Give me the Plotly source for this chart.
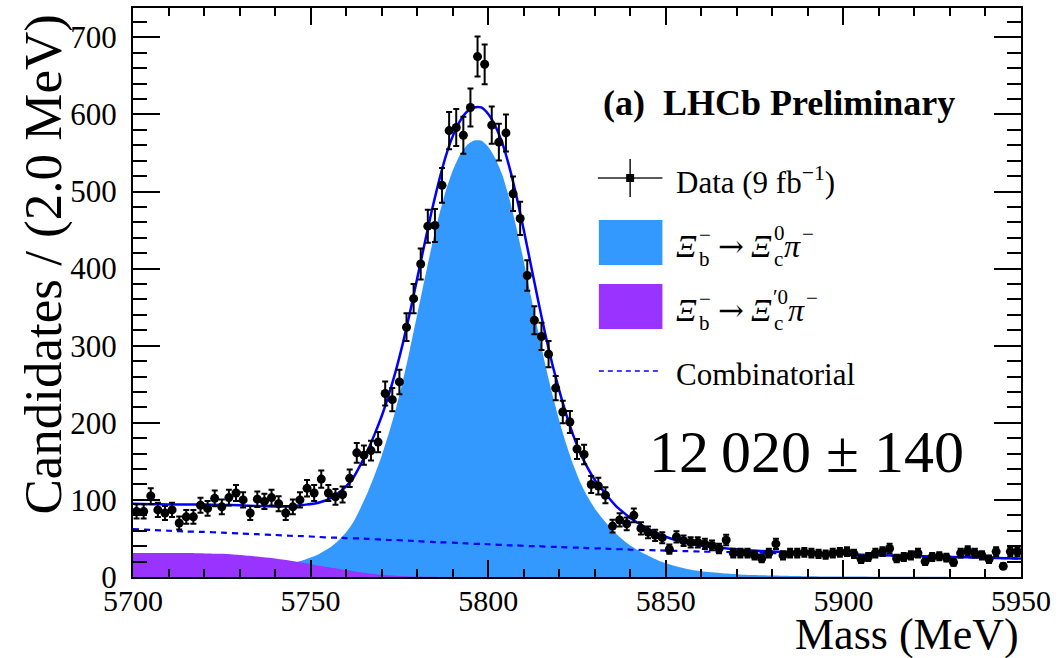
import math
import plotly.graph_objects as go

# ---------------------------------------------------------------- data
# Binned candidate counts, 2 MeV bins starting at 5700 MeV
bin_low = 5700.0
bin_width = 2.0
counts = [
    85, 85, 105, 87, 83, 87, 70, 78, 78, 93,
    89, 102, 91, 103, 109, 100, 83, 101, 98, 103,
    95, 83, 91, 100, 115, 109, 127, 109, 104, 107,
    128, 161, 158, 164, 175, 238, 230, 253, 324, 361,
    406, 455, 456, 508, 579, 583, 573, 609, 675, 665,
    586, 564, 576, 497, 465, 391, 333, 312, 289, 245,
    214, 201, 166, 159, 120, 118, 106, 66, 74, 69,
    80, 63, 58, 54, 51, 36, 52, 47, 45, 45,
    43, 41, 37, 48, 31, 31, 31, 28, 24, 31,
    43, 28, 31, 31, 32, 31, 30, 29, 31, 32,
    33, 30, 23, 26, 31, 33, 37, 24, 26, 28,
    31, 20, 26, 27, 25, 19, 31, 34, 31, 28,
    23, 33, 14, 33, 33,
]

# Fit model components sampled on a mass grid (MeV)
curve_mass = [
    5700, 5705, 5710, 5715, 5720, 5725, 5730, 5735, 5740, 5744,
    5748, 5752, 5756, 5758, 5760, 5762, 5764, 5766, 5768, 5770,
    5772, 5774, 5776, 5778, 5780, 5782, 5784, 5786, 5788, 5790,
    5792, 5794, 5796, 5798, 5800, 5802, 5804, 5806, 5808, 5810,
    5812, 5814, 5816, 5818, 5820, 5822, 5824, 5826, 5828, 5830,
    5832, 5834, 5836, 5838, 5840, 5844, 5848, 5852, 5856, 5860,
    5866, 5872, 5880, 5890, 5900, 5910, 5920, 5930, 5940, 5950,
]
signal_curve = [
    2, 2.5, 3, 4, 5, 6, 8, 10, 13, 16.5,
    22, 29, 40, 48, 58, 71, 89, 109, 132, 157,
    186, 218, 255, 296, 340, 384, 427, 466, 500, 527,
    547, 560, 566, 566, 558, 543, 521, 490, 452, 410,
    365, 320, 277, 238, 203, 172, 145, 122, 104, 89,
    77, 66, 56, 48, 41, 30, 21, 15, 10.5, 7.5,
    5, 3, 2, 1, 0.5, 0.3, 0.2, 0.1, 0.1, 0,
]
xic_prime_curve = [
    31, 31, 31, 31, 30.5, 30, 28.5, 26.5, 24, 21.5,
    18.5, 15, 12, 10.5, 9, 7.5, 6, 5, 4, 3,
    2.3, 1.7, 1.2, 0.8, 0.5, 0.3, 0.2, 0.1, 0, 0,
    0, 0, 0, 0, 0, 0, 0, 0, 0, 0,
    0, 0, 0, 0, 0, 0, 0, 0, 0, 0,
    0, 0, 0, 0, 0, 0, 0, 0, 0, 0,
    0, 0, 0, 0, 0, 0, 0, 0, 0, 0,
]
combinatorial_curve = [
    62, 61, 60, 59, 58.5, 57.5, 56.5, 55.5, 54.5, 53.5,
    53, 52, 51, 51, 50.5, 50, 50, 49.5, 49, 48.5,
    48, 48, 47.5, 47, 46.5, 46, 45.5, 45, 45, 44.5,
    44, 43.5, 43, 43, 42.5, 42, 41.5, 41, 41, 40.5,
    40, 40, 39.5, 39, 39, 38.5, 38, 38, 37.5, 37,
    37, 36.5, 36, 36, 35.5, 35, 34.5, 34, 33.5, 33,
    32.5, 32, 31, 30, 29, 28, 27, 26, 25, 24,
]

x_ticks = [5700, 5750, 5800, 5850, 5900, 5950]
y_ticks = [0, 100, 200, 300, 400, 500, 600, 700]

# ---------------------------------------------------------------- derived
bin_centers = [bin_low + bin_width * (i + 0.5) for i in range(len(counts))]
count_errors = [math.sqrt(n) for n in counts]
total_curve = [s + p + c for s, p, c in zip(signal_curve, xic_prime_curve, combinatorial_curve)]

SERIF = "Liberation Serif, Times New Roman, serif"
SIGNAL_COLOR = "#3399ff"
PRIME_COLOR = "#9933ff"
FIT_COLOR = "#0000ff"

# plot-area pixel box used to place the in-frame legend and labels
L, R, T, B = 133, 1027, 8, 577


def px(x):
    return (x - L) / (R - L)


def py(y):
    return (B - y) / (B - T)


fig = go.Figure()

fig.add_trace(go.Scatter(
    x=curve_mass, y=signal_curve, mode="lines", fill="tozeroy",
    fillcolor=SIGNAL_COLOR, line=dict(width=0, color=SIGNAL_COLOR, shape="spline", smoothing=0.6),
    hoverinfo="skip", showlegend=False,
))
fig.add_trace(go.Scatter(
    x=curve_mass, y=xic_prime_curve, mode="lines", fill="tozeroy",
    fillcolor=PRIME_COLOR, line=dict(width=0, color=PRIME_COLOR, shape="spline", smoothing=0.6),
    hoverinfo="skip", showlegend=False,
))
fig.add_trace(go.Scatter(
    x=curve_mass, y=combinatorial_curve, mode="lines",
    line=dict(width=2.2, color=FIT_COLOR, dash="6px,5px", shape="spline", smoothing=0.6),
    hoverinfo="skip", showlegend=False,
))
fig.add_trace(go.Scatter(
    x=curve_mass, y=total_curve, mode="lines",
    line=dict(width=2.5, color=FIT_COLOR, shape="spline", smoothing=0.6),
    hoverinfo="skip", showlegend=False,
))
fig.add_trace(go.Scatter(
    x=bin_centers, y=counts, mode="markers",
    marker=dict(symbol="circle", size=9, color="black"),
    error_y=dict(type="data", array=count_errors, visible=True, color="black", thickness=2, width=3),
    showlegend=False,
))
# invisible trace that carries the mirrored top/right axes
fig.add_trace(go.Scatter(x=[bin_low], y=[0], xaxis="x2", yaxis="y2", mode="markers",
                         marker=dict(opacity=0), hoverinfo="skip", showlegend=False))

axis_common = dict(showline=True, linecolor="black", linewidth=2, ticks="inside",
                   tickcolor="black", tickwidth=2, showgrid=False, zeroline=False)

fig.update_layout(
    width=1059, height=658,
    margin=dict(l=L, r=1059 - R, t=T, b=658 - B),
    paper_bgcolor="white", plot_bgcolor="white",
    font=dict(family=SERIF, color="black"),
    xaxis=dict(range=[5700, 5950], tickvals=x_ticks, ticklen=17,
               minor=dict(dtick=10, tick0=5700, ticklen=8, ticks="inside", tickcolor="black", tickwidth=2),
               tickfont=dict(family=SERIF, size=30), ticklabelstandoff=-4, **axis_common),
    yaxis=dict(range=[0, 738], tickvals=y_ticks, ticklen=27,
               minor=dict(dtick=20, tick0=0, ticklen=14, ticks="inside", tickcolor="black", tickwidth=2),
               tickfont=dict(family=SERIF, size=31), ticklabelstandoff=8, **axis_common),
    xaxis2=dict(range=[5700, 5950], overlaying="x", side="top", tickvals=x_ticks, ticklen=17,
                minor=dict(dtick=10, tick0=5700, ticklen=8, ticks="inside", tickcolor="black", tickwidth=2),
                showticklabels=False, **axis_common),
    yaxis2=dict(range=[0, 738], overlaying="y", side="right", tickvals=y_ticks, ticklen=27,
                minor=dict(dtick=20, tick0=0, ticklen=14, ticks="inside", tickcolor="black", tickwidth=2),
                showticklabels=False, **axis_common),
)

annotations = [
    dict(text="Candidates / (2.0 MeV)", x=px(42), y=py(265), xanchor="center", yanchor="middle",
         textangle=-90, font=dict(size=53)),
    dict(text="Mass (MeV)", x=1.0, y=py(634), xanchor="right", yanchor="middle", font=dict(size=44)),
    dict(text="<b>(a)  LHCb Preliminary</b>", x=px(604), y=py(103), xanchor="left", yanchor="middle",
         font=dict(size=36)),
    dict(text="Data (9 fb<sup>−1</sup>)", x=px(678), y=py(180), xanchor="left", yanchor="middle",
         font=dict(size=31)),
    dict(text="Combinatorial", x=px(678), y=py(374), xanchor="left", yanchor="middle", font=dict(size=31)),
    dict(text="12\u2009020 ± 140", x=px(811), y=py(452), xanchor="center", yanchor="middle",
         font=dict(size=60)),
]


def decay_label(y_mid, prime):
    """Decay label with stacked sub/superscripts, built from pieces."""
    main = dict(size=32)
    arrow = dict(size=31, family="DejaVu Serif")
    small = dict(size=21)
    # (text, left x, anchor y, yanchor, font)
    pieces = [
        ("<i>Ξ</i>", 678, y_mid, "middle", main),
        ("b", 701, y_mid - 1, "top", small),
        ("−", 701, y_mid + 3, "bottom", small),
        ("→", 720, y_mid, "middle", arrow),
        ("<i>Ξ</i>", 753, y_mid, "middle", main),
        ("c", 776, y_mid - 1, "top", small),
        ("′0" if prime else "0", 775 if prime else 776, y_mid + 1, "bottom", small),
        ("<i>π</i>", 790 if prime else 786, y_mid, "middle", main),
        ("−", 809 if prime else 805, y_mid + 2, "bottom", small),
    ]
    out = []
    for text, x, y, ya, f in pieces:
        out.append(dict(text=text, x=px(x), y=py(y), xanchor="left", yanchor=ya, font=f))
    return out


annotations += decay_label(246, prime=False)
annotations += decay_label(310, prime=True)

for a in annotations:
    a.update(xref="paper", yref="paper", showarrow=False)
fig.update_layout(annotations=annotations)

shapes = [
    # data marker key
    dict(type="line", x0=px(601), x1=px(666), y0=py(178), y1=py(178), line=dict(color="#222", width=1.6)),
    dict(type="line", x0=px(633.5), x1=px(633.5), y0=py(159), y1=py(197), line=dict(color="#222", width=1.6)),
    dict(type="rect", x0=px(629.5), x1=px(637.5), y0=py(182), y1=py(174), fillcolor="black",
         line=dict(width=0)),
    # component keys
    dict(type="rect", x0=px(602), x1=px(666), y0=py(265), y1=py(220), fillcolor=SIGNAL_COLOR,
         line=dict(width=0)),
    dict(type="rect", x0=px(602), x1=px(666), y0=py(329), y1=py(284), fillcolor=PRIME_COLOR,
         line=dict(width=0)),
    dict(type="line", x0=px(602), x1=px(664), y0=py(371), y1=py(371),
         line=dict(color=FIT_COLOR, width=1.5, dash="5px,4px")),
]
for s in shapes:
    s.update(xref="paper", yref="paper")
fig.update_layout(shapes=shapes)

fig.write_html("out.html")
